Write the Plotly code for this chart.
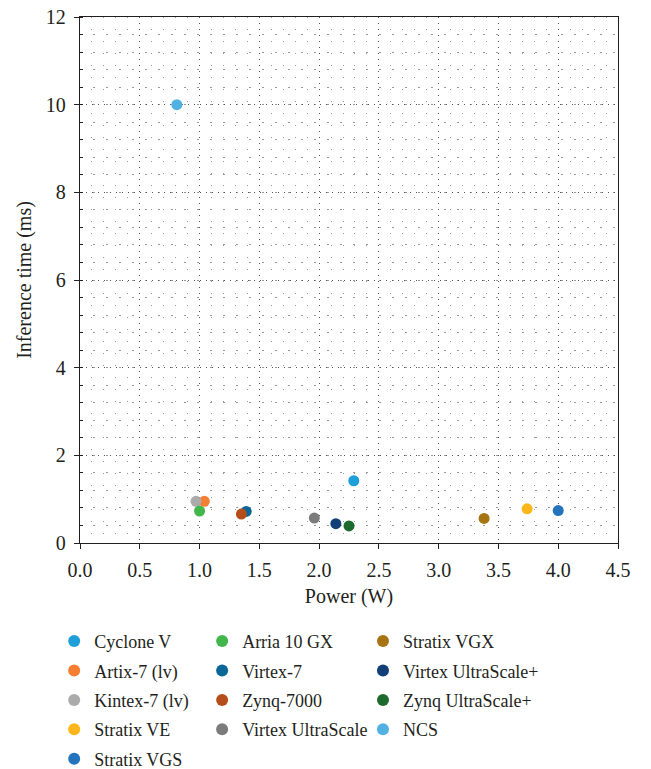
import plotly.graph_objects as go

names = ["Cyclone V", "Artix-7 (lv)", "Kintex-7 (lv)", "Stratix VE", "Stratix VGS",
         "Arria 10 GX", "Virtex-7", "Zynq-7000", "Virtex UltraScale",
         "Stratix VGX", "Virtex UltraScale+", "Zynq UltraScale+", "NCS"]
power = [2.29, 1.04, 0.97, 3.74, 4.00,
         1.00, 1.39, 1.35, 1.96,
         3.38, 2.14, 2.25, 0.81]
inference = [1.42, 0.95, 0.95, 0.78, 0.74,
             0.73, 0.72, 0.66, 0.57,
             0.56, 0.44, 0.39, 10.0]
colors = ["#1e9fd9", "#f47f32", "#ababab", "#fdb71a", "#2474bd",
          "#41b64b", "#0b6698", "#b54e1b", "#7b7b7b",
          "#a77414", "#123f78", "#1d6a2e", "#51b1e3"]
columns = [1, 1, 1, 1, 1, 2, 2, 2, 2, 3, 3, 3, 3]

FONT = "Liberation Serif"
TXT = "#231f20"

fig = go.Figure()
for n, x, y, c, col in zip(names, power, inference, colors, columns):
    fig.add_trace(go.Scatter(
        x=[x], y=[y], mode="markers", name=n,
        marker=dict(size=11, color=c),
        legend="legend" if col == 1 else f"legend{col}",
        legendgroup=n,
    ))

leg_common = dict(orientation="v", yref="container", yanchor="top", y=0.192,
                  xanchor="left",
                  traceorder="grouped", tracegroupgap=3,
                  font=dict(family=FONT, size=18, color=TXT),
                  bgcolor="rgba(0,0,0,0)", itemsizing="constant")

tickfont = dict(family=FONT, size=20, color=TXT)
titlefont = dict(family=FONT, size=20, color=TXT)

# page body adds an 8px offset; the figure is sized to fill the rest of the window
fig.update_layout(
    width=643, height=761,
    margin=dict(l=72, r=33, t=9, b=226),
    paper_bgcolor="white", plot_bgcolor="white",
    font=dict(family=FONT, size=20, color=TXT),
    showlegend=True,
    legend=dict(x=-0.048, **leg_common),
    legend2=dict(x=0.227, **leg_common),
    legend3=dict(x=0.526, **leg_common),
    xaxis=dict(
        range=[0, 4.5], dtick=0.5, tick0=0, tickformat=".1f",
        tickfont=tickfont, automargin=False, ticklabelstandoff=4,
        ticklabeloverflow="allow",
        showline=True, linecolor="#231f20", linewidth=1.3, mirror=True,
        ticks="outside", ticklen=5, tickcolor="#231f20",
        showgrid=True, gridcolor="#555555", gridwidth=1, griddash="1px,5px",
        zeroline=False,
        minor=dict(dtick=0.1, showgrid=True, gridcolor="#999999", gridwidth=1,
                   griddash="1px,11px", ticks=""),
        title=dict(text="Power (W)", font=titlefont, standoff=8),
    ),
    yaxis=dict(
        range=[0, 12], dtick=2, tick0=0,
        tickfont=tickfont, automargin=False, ticklabelstandoff=4,
        ticklabeloverflow="allow",
        showline=True, linecolor="#231f20", linewidth=1.3, mirror=True,
        ticks="outside", ticklen=5, tickcolor="#231f20",
        showgrid=True, gridcolor="#555555", gridwidth=1, griddash="1px,5px",
        zeroline=False,
        minor=dict(dtick=0.4, showgrid=True, gridcolor="#999999", gridwidth=1,
                   griddash="2px,11px", ticks="inside", ticklen=3, tickcolor="#231f20"),
        title=dict(text="Inference time (ms)", font=titlefont, standoff=8),
    ),
)

fig.write_html("out.html")
